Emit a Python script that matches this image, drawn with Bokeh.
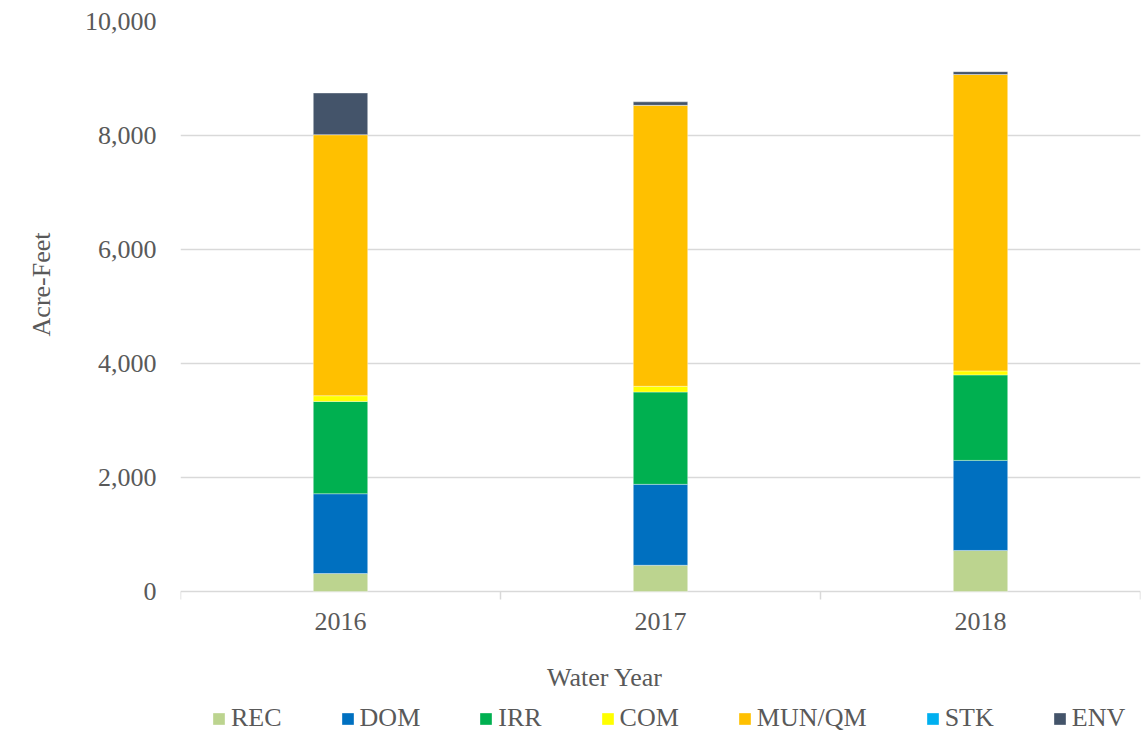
from bokeh.plotting import figure
from bokeh.models import (Range1d, FixedTicker, NumeralTickFormatter, Legend, LegendItem,
                          Title, ColumnDataSource)
from bokeh.core.properties import value
from bokeh.embed import file_html
from bokeh.resources import INLINE

years = ["2016", "2017", "2018"]
categories = ["REC", "DOM", "IRR", "COM", "MUN/QM", "STK", "ENV"]
rec = [315, 460, 720]
dom = [1400, 1420, 1580]
irr = [1620, 1620, 1500]
com = [100, 100, 70]
mun = [4580, 4930, 5200]
stk = [0, 0, 0]
env = [730, 60, 50]
colors = ["#bcd48f", "#0070c0", "#00b050", "#ffff00", "#ffc000", "#00b0f0", "#44546a"]
y_ticks = [0, 2000, 4000, 6000, 8000, 10000]
x_title = "Water Year"
y_title = "Acre-Feet"

FONT = "Liberation Serif"
TXT = "#595959"
GRID = "#d9d9d9"

# layout constants (pixels): plot area from y=21 (10,000) to y=591 (0); canvas ends at 740
TOP, ZERO, BOTTOM = 21, 591, 740
YMAX = 10000
UNIT = YMAX / (ZERO - TOP)          # acre-feet per pixel
y_start = -(BOTTOM - ZERO) * UNIT   # room below zero for x labels and legend

# each year occupies one unit slot on the x scale; the bar sits in the middle of its slot
xpos = [i + 0.5 for i in range(len(years))]
bounds = list(range(len(years) + 1))
source = ColumnDataSource(data={"x": xpos, "REC": rec, "DOM": dom, "IRR": irr,
                                "COM": com, "MUN/QM": mun, "STK": stk, "ENV": env})

p = figure(x_range=Range1d(0, len(years)), y_range=Range1d(y_start, YMAX),
           width=1142, height=740, output_backend="svg", toolbar_location=None,
           x_axis_location=None, min_border_left=180, min_border_right=2,
           min_border_top=TOP, min_border_bottom=0)
p.outline_line_color = None
p.background_fill_color = "white"

rs = p.vbar_stack(categories, x="x", width=0.17, fill_color=colors,
                  line_color="white", line_alpha=0.35, line_width=1, source=source)

p.xgrid.visible = False
p.ygrid.ticker = FixedTicker(ticks=y_ticks)
p.ygrid.grid_line_color = GRID
p.ygrid.grid_line_width = 1.5

ya = p.yaxis[0]
ya.ticker = FixedTicker(ticks=y_ticks)
ya.formatter = NumeralTickFormatter(format="0,0")
ya.axis_line_color = None
ya.major_tick_line_color = None
ya.minor_tick_line_color = None
ya.major_tick_out = 0
ya.major_tick_in = 0
ya.major_label_standoff = 24
ya.major_label_text_font = FONT
ya.major_label_text_font_size = "26px"
ya.major_label_text_color = TXT

ytitle = Title(text=y_title, align="right", offset=211, standoff=50,
               vertical_align="middle",
               text_font=FONT, text_font_size="26px", text_font_style="normal",
               text_color=TXT)
p.add_layout(ytitle, "left")

# category separator ticks below the zero line
tick_len = 8 * UNIT
p.segment(x0=bounds, y0=[0] * len(bounds), x1=bounds, y1=[-tick_len] * len(bounds),
          line_color=GRID, line_width=1.5)

# year labels under each bar
p.text(x=xpos, y=[-(621 - ZERO) * UNIT] * len(years), text=years,
       text_align="center", text_baseline="middle",
       text_font=value(FONT), text_font_size=value("26px"), text_color=TXT)

# x-axis title
p.text(x=[(604.5 - 180) / 320], y=[-(677 - ZERO) * UNIT], text=[x_title],
       text_align="center", text_baseline="middle",
       text_font=value(FONT), text_font_size=value("26px"), text_color=TXT)

legend = Legend(items=[LegendItem(label=c, renderers=[r]) for c, r in zip(categories, rs)],
                orientation="horizontal", location=(31, 7),
                label_text_font=FONT, label_text_font_size="26px", label_text_color=TXT,
                glyph_width=15, glyph_height=15, label_standoff=5, spacing=58,
                padding=0, margin=0, border_line_color=None, background_fill_alpha=0,
                label_height=26)
p.add_layout(legend)

open("out.html", "w").write(file_html(p, INLINE))
